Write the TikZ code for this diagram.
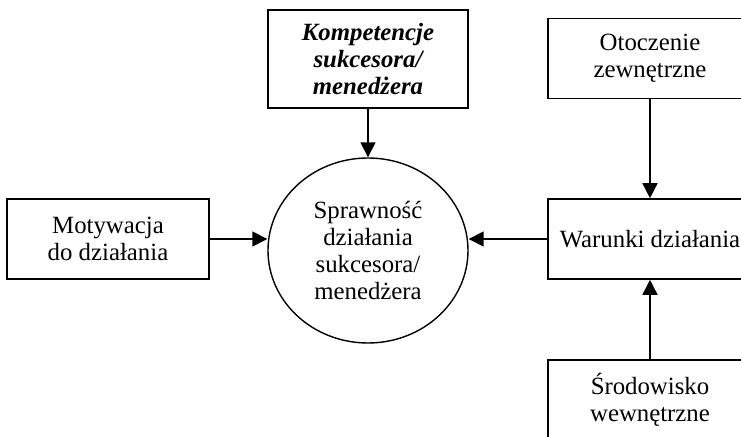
\documentclass[tikz,border=0pt]{standalone}
\usepackage{fontspec}
\setmainfont{Liberation Serif}
\usetikzlibrary{arrows.meta,positioning,shapes.geometric}
\tikzset{
 box/.style={draw,line width=0.8pt,align=center,font=\fontsize{12.4}{13.5}\selectfont,minimum width=101pt,minimum height=40pt,inner sep=2pt},
 keybox/.style={box,font=\fontsize{12.4}{13.5}\selectfont\bfseries\itshape,minimum width=100pt,minimum height=49pt},
 hub/.style={ellipse,draw,line width=0.7pt,align=center,font=\fontsize{12.4}{13.5}\selectfont,minimum width=100pt,minimum height=92.5pt,inner sep=0pt},
 arr/.style={-{Triangle[length=7.5pt,width=7.5pt]},line width=0.8pt}
}
\begin{document}
\begin{tikzpicture}[x=0.5pt,y=-0.5pt]
\clip (0,0) rectangle (741,437);
\useasboundingbox (0,0) rectangle (741,437);
% Centre of the figure.
\node[hub] (spraw) at (368,250.5) {Sprawność\\działania\\sukcesora/\\menedżera};
\node[keybox] (komp) at (368,59) {Kompetencje\\sukcesora/\\menedżera};
\node[box] (motyw) at (108,239) {Motywacja\\do działania};
% Right column, cut by the page edge.
\node[box,minimum width=102pt] (otocz) at (650,58.5) {Otoczenie\\zewnętrzne};
\node[box,minimum width=102pt] (war) at (650,239) {Warunki działania};
\node[box,minimum width=102pt] (srod) at (650,400) {Środowisko\\wewnętrzne};
\draw[arr] (komp) -- (spraw);
\draw[arr] (motyw) -- (motyw -| spraw.west);
\draw[arr] (war) -- (war -| spraw.east);
\draw[arr] (otocz) -- (war);
\draw[arr] (srod) -- (war);
\end{tikzpicture}
\end{document}
